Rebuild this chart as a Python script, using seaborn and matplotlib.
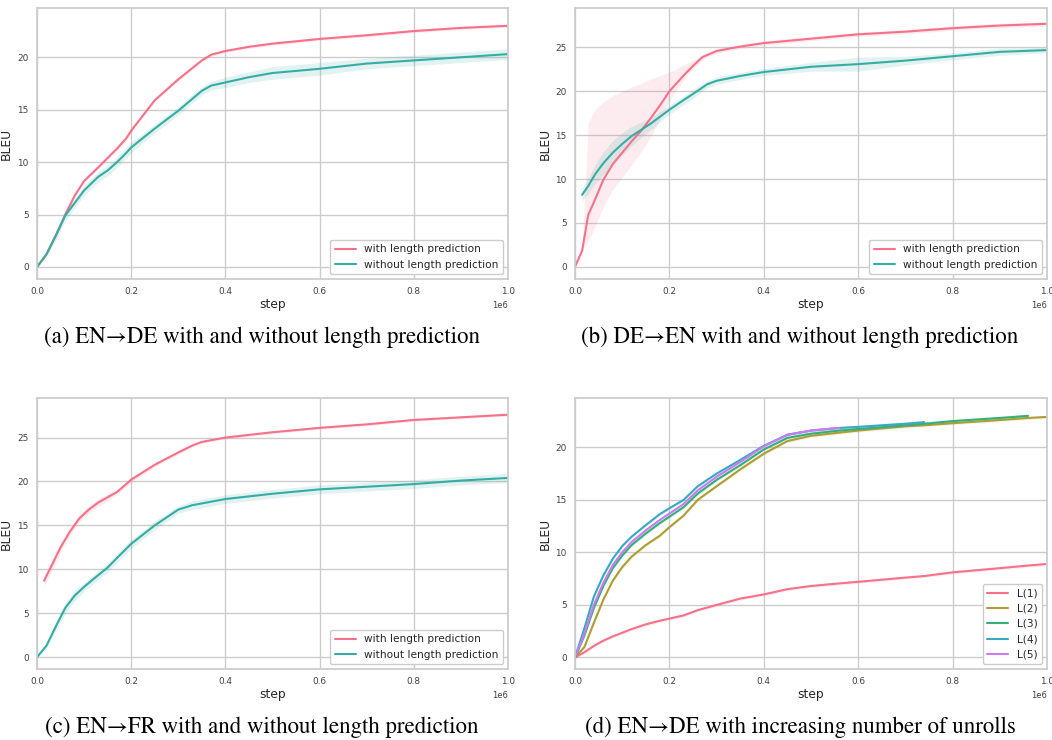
import matplotlib
matplotlib.use("Agg")
import numpy as np
import matplotlib.pyplot as plt
from matplotlib.ticker import MultipleLocator
import seaborn as sns

# ---------------------------------------------------------------
# Data (steps are in units of 1e6)
# ---------------------------------------------------------------

# (a) EN->DE
a_steps = [0, 0.02, 0.04, 0.06, 0.08, 0.1, 0.13, 0.15, 0.17, 0.19, 0.2, 0.25, 0.3,
           0.35, 0.37, 0.4, 0.45, 0.5, 0.6, 0.7, 0.8, 0.9, 1.0]
a_with = [0, 1.2, 3.0, 5.0, 6.8, 8.2, 9.5, 10.4, 11.3, 12.3, 13.0, 15.9, 17.9,
          19.7, 20.25, 20.6, 21.0, 21.3, 21.75, 22.1, 22.5, 22.8, 23.0]
a_with_err = [0.05, 0.1, 0.15, 0.15, 0.15, 0.15, 0.15, 0.15, 0.15, 0.15, 0.15, 0.15, 0.15,
              0.15, 0.15, 0.15, 0.15, 0.15, 0.15, 0.15, 0.15, 0.15, 0.15]
a_without = [0, 1.2, 3.0, 4.9, 6.1, 7.3, 8.6, 9.2, 10.0, 10.9, 11.4, 13.2, 14.9,
             16.8, 17.3, 17.6, 18.1, 18.5, 18.9, 19.4, 19.7, 20.0, 20.3]
a_without_err = [0.1, 0.2, 0.4, 0.5, 0.5, 0.5, 0.5, 0.5, 0.5, 0.5, 0.5, 0.4, 0.4,
                 0.4, 0.4, 0.5, 0.5, 0.6, 0.6, 0.5, 0.5, 0.5, 0.5]

# (b) DE->EN
b_steps_with = [0, 0.015, 0.028, 0.042, 0.06, 0.08, 0.1, 0.12, 0.14, 0.16, 0.18, 0.2,
                0.23, 0.25, 0.27, 0.3, 0.35, 0.4, 0.5, 0.6, 0.7, 0.8, 0.9, 1.0]
b_with = [0, 1.8, 5.9, 7.6, 9.9, 11.7, 13.0, 14.3, 15.5, 16.9, 18.4, 20.0,
          21.8, 22.9, 23.9, 24.6, 25.1, 25.5, 26.0, 26.5, 26.8, 27.2, 27.5, 27.7]
b_with_lo = [0, 1.8, 3.0, 4.5, 6.9, 8.8, 10.2, 11.6, 13.1, 14.8, 16.8, 18.9,
             21.3, 22.6, 23.6, 24.35, 24.85, 25.25, 25.75, 26.25, 26.55, 26.95, 27.25, 27.45]
b_with_hi = [0, 1.8, 16.4, 17.9, 18.8, 19.5, 20.0, 20.5, 20.9, 21.4, 21.8, 22.2,
             23.0, 23.5, 24.2, 24.85, 25.35, 25.75, 26.25, 26.75, 27.05, 27.45, 27.75, 27.95]
b_steps_without = [0.015, 0.028, 0.042, 0.06, 0.08, 0.1, 0.12, 0.14, 0.16, 0.18, 0.2, 0.23,
                   0.25, 0.28, 0.3, 0.35, 0.4, 0.5, 0.6, 0.7, 0.8, 0.9, 1.0]
b_without = [8.2, 9.2, 10.5, 11.8, 13.0, 14.0, 14.9, 15.6, 16.3, 17.1, 17.9, 19.0,
             19.7, 20.8, 21.2, 21.75, 22.2, 22.8, 23.1, 23.5, 24.0, 24.5, 24.7]
b_without_err = [0.7, 0.9, 1.1, 1.3, 1.4, 1.3, 1.1, 0.9, 0.7, 0.6, 0.5, 0.5,
                 0.5, 0.4, 0.4, 0.4, 0.4, 0.5, 0.8, 0.5, 0.4, 0.4, 0.3]

# (c) EN->FR
c_steps_with = [0.015, 0.03, 0.05, 0.07, 0.09, 0.11, 0.13, 0.15, 0.17, 0.2, 0.25, 0.3,
                0.33, 0.35, 0.4, 0.5, 0.6, 0.7, 0.8, 0.9, 1.0]
c_with = [8.7, 10.3, 12.5, 14.3, 15.8, 16.8, 17.6, 18.2, 18.8, 20.2, 21.9, 23.3,
          24.1, 24.5, 25.0, 25.6, 26.1, 26.5, 27.0, 27.3, 27.6]
c_with_err = [0.6, 0.6, 0.5, 0.4, 0.4, 0.4, 0.4, 0.4, 0.3, 0.3, 0.2, 0.2,
              0.15, 0.15, 0.15, 0.15, 0.15, 0.15, 0.15, 0.15, 0.15]
c_steps_without = [0, 0.02, 0.04, 0.06, 0.08, 0.1, 0.12, 0.15, 0.17, 0.2, 0.25, 0.3,
                   0.33, 0.4, 0.5, 0.6, 0.7, 0.8, 0.9, 1.0]
c_without = [0, 1.3, 3.5, 5.6, 7.0, 8.0, 8.9, 10.2, 11.3, 12.9, 15.0, 16.8,
             17.3, 18.0, 18.6, 19.1, 19.4, 19.7, 20.1, 20.4]
c_without_err = [0.1, 0.3, 0.5, 0.6, 0.6, 0.5, 0.5, 0.5, 0.5, 0.5, 0.5, 0.4,
                 0.5, 0.5, 0.5, 0.5, 0.5, 0.5, 0.5, 0.5]

# (d) EN->DE, number of unrolls (shorter runs stop early)
d_steps = [0, 0.02, 0.04, 0.06, 0.08, 0.1, 0.12, 0.15, 0.18, 0.2, 0.23, 0.26, 0.3,
           0.35, 0.4, 0.45, 0.5, 0.56, 0.6, 0.7, 0.74, 0.8, 0.9, 0.96, 1.0]
d_labels = ["L(1)", "L(2)", "L(3)", "L(4)", "L(5)"]
d_L1 = [0, 0.5, 1.1, 1.6, 2.0, 2.35, 2.7, 3.15, 3.5, 3.7, 4.0, 4.5, 5.0,
        5.6, 6.0, 6.5, 6.8, 7.05, 7.2, 7.6, 7.75, 8.1, 8.5, 8.75, 8.9]
d_L2 = [0, 1.0, 3.3, 5.5, 7.3, 8.6, 9.6, 10.7, 11.6, 12.4, 13.5, 15.0, 16.3,
        17.9, 19.4, 20.6, 21.1, 21.4, 21.6, 22.0, 22.1, 22.3, 22.6, 22.8, 22.9]
d_L3 = [0, 2.1, 4.7, 6.8, 8.5, 9.7, 10.7, 11.8, 12.8, 13.4, 14.3, 15.6, 16.9,
        18.3, 19.8, 20.9, 21.3, 21.6, 21.75, 22.1, 22.25, 22.5, 22.8, 23.0]
d_L4 = [0, 2.8, 5.8, 7.8, 9.4, 10.6, 11.5, 12.6, 13.65, 14.2, 15.0, 16.3, 17.5,
        18.8, 20.15, 21.2, 21.6, 21.85, 21.95, 22.25, 22.4]
d_L5 = [0, 2.3, 5.0, 7.1, 8.8, 10.0, 11.0, 12.1, 13.1, 13.7, 14.6, 15.9, 17.2,
        18.6, 20.1, 21.2, 21.6, 21.85]

captions = [
    "(a) EN\u2192DE with and without length prediction",
    "(b) DE\u2192EN with and without length prediction",
    "(c) EN\u2192FR with and without length prediction",
    "(d) EN\u2192DE with increasing number of unrolls",
]

# ---------------------------------------------------------------
# Style
# ---------------------------------------------------------------
sns.set_style("whitegrid")
plt.rcParams.update({
    "axes.edgecolor": ".8",
    "axes.linewidth": 1.25,
    "grid.color": ".8",
    "grid.linewidth": 1.0,
    "xtick.labelsize": 6.4,
    "ytick.labelsize": 6.4,
    "xtick.major.pad": 2.5,
    "ytick.major.pad": 2.5,
    "xtick.color": ".25",
    "ytick.color": ".25",
    "axes.labelsize": 8.8,
    "axes.labelcolor": ".15",
    "legend.fontsize": 7.6,
})

pal2 = sns.color_palette("husl", 2)
pal5 = sns.color_palette("husl", 5)

W, H = 1052, 740
fig = plt.figure(figsize=(W / 100, H / 100), dpi=100)


def make_axes(left, top, right, bottom):
    return fig.add_axes([left / W, 1 - bottom / H, (right - left) / W, (bottom - top) / H])


def scale(steps):
    return np.array(steps) * 1e6


def draw_line(ax, steps, vals, color, label, lo=None, hi=None, alpha=0.15):
    x = scale(steps)
    y = np.array(vals)
    if lo is not None:
        ax.fill_between(x, lo, hi, color=color, alpha=alpha, lw=0)
    sns.lineplot(x=x, y=y, ax=ax, color=color, lw=1.5, label=label)


def finish(ax, ylim, ystep):
    ax.set_xlim(0, 1e6)
    ax.set_ylim(*ylim)
    ax.xaxis.set_major_locator(MultipleLocator(2e5))
    ax.yaxis.set_major_locator(MultipleLocator(ystep))
    ax.xaxis.get_offset_text().set_fontsize(6)
    ax.set_xlabel("step", labelpad=1)
    ax.set_ylabel("BLEU", labelpad=3)
    ax.legend(loc="lower right", frameon=True, edgecolor=".8", framealpha=1,
              fancybox=True, borderaxespad=0.5)


def err(vals, half):
    v = np.array(vals)
    h = np.array(half)
    return v - h, v + h


# (a)
ax = make_axes(37, 8, 508, 279)
lo, hi = err(a_with, a_with_err)
draw_line(ax, a_steps, a_with, pal2[0], "with length prediction", lo, hi)
lo, hi = err(a_without, a_without_err)
draw_line(ax, a_steps, a_without, pal2[1], "without length prediction", lo, hi)
finish(ax, (-1.15, 24.7), 5)

# (b)
ax = make_axes(575, 8, 1047, 279)
draw_line(ax, b_steps_with, b_with, pal2[0], "with length prediction",
          np.array(b_with_lo), np.array(b_with_hi), alpha=0.13)
lo, hi = err(b_without, b_without_err)
draw_line(ax, b_steps_without, b_without, pal2[1], "without length prediction", lo, hi)
finish(ax, (-1.4, 29.5), 5)

# (c)
ax = make_axes(37, 398, 508, 669)
lo, hi = err(c_with, c_with_err)
draw_line(ax, c_steps_with, c_with, pal2[0], "with length prediction", lo, hi)
lo, hi = err(c_without, c_without_err)
draw_line(ax, c_steps_without, c_without, pal2[1], "without length prediction", lo, hi)
finish(ax, (-1.35, 29.5), 5)

# (d)
ax = make_axes(575, 398, 1047, 669)
for i, (series, label) in enumerate(zip([d_L1, d_L2, d_L3, d_L4, d_L5], d_labels)):
    lo, hi = err(series, [0.15] * len(series))
    draw_line(ax, d_steps[:len(series)], series, pal5[i], label, lo, hi, alpha=0.12)
finish(ax, (-1.1, 24.7), 5)

# captions under each panel (Times-like font, long arrow)
cap_font = ["STIXGeneral", "Liberation Serif", "DejaVu Serif"]
for (cx, cy), text in zip([(262, 337), (800, 337), (262, 727), (800, 727)], captions):
    fig.text(cx / W, 1 - cy / H, text, ha="center", va="center",
             fontsize=16.5, family=cap_font, color="black")

plt.savefig("out.png", dpi=100)
